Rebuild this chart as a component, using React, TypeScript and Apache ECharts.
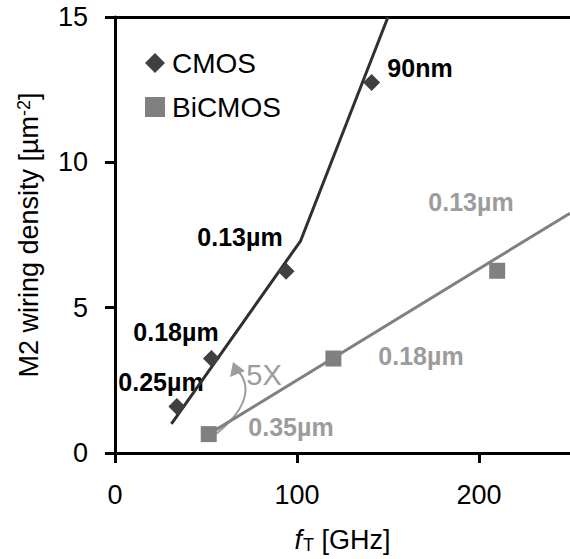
import React, { useEffect, useRef } from "react";
import * as echarts from "echarts";

const xTicks = [0, 100, 200];
const yTicks = [0, 5, 10, 15];
const cmosPoints = [[34, 1.6], [53, 3.25], [94, 6.25], [141, 12.75]];
const cmosFit = [[31, 1.0], [102, 7.3], [150, 15]];
const bicmosPoints = [[51.5, 0.65], [120, 3.25], [210, 6.27]];
const bicmosFit = [[51.5, 0.65], [250, 8.25]];

const FONT = "Liberation Sans, Arial, sans-serif";
const DARK = "#404040";
const GRAY = "#808080";
const LGRAY = "#9c9c9c";

export default function App() {
  const ref = useRef<HTMLDivElement>(null);
  useEffect(() => {
    document.body.style.margin = "0";
    const chart = echarts.init(ref.current!, null, { renderer: "svg" });
    const lbl = (text: string, x: number, y: number, color: string, bold = true, size = 25) => ({
      type: "text",
      x,
      y,
      style: {
        text,
        fill: color,
        font: `${bold ? "bold " : ""}${size}px ${FONT}`,
        textAlign: "center",
        textVerticalAlign: "middle",
      },
    });
    chart.setOption({
      animation: false,
      grid: { left: 115, top: 17, right: -6, bottom: 102 },
      legend: {
        orient: "vertical",
        left: 140,
        top: 44,
        itemWidth: 20,
        itemHeight: 20,
        itemGap: 16,
        textStyle: { fontSize: 28, fontFamily: FONT, color: "#000", padding: [0, 0, 0, 2] },
        data: [
          { name: "CMOS", icon: "diamond", itemStyle: { opacity: 1 } },
          { name: "BiCMOS", icon: "rect", itemStyle: { opacity: 1 } },
        ],
      },
      xAxis: [
        {
          type: "value",
          min: 0,
          max: 250,
          interval: 100,
          position: "bottom",
          name: "{i|f}{sub|T} [GHz]",
          nameLocation: "middle",
          nameGap: 73,
          nameTextStyle: {
            fontSize: 27,
            fontFamily: FONT,
            color: "#000",
            rich: {
              i: { fontSize: 27, fontStyle: "italic", fontFamily: FONT, color: "#000" },
              sub: { fontSize: 18, fontFamily: FONT, color: "#000", verticalAlign: "bottom", padding: [10, 0, 0, 1] },
            },
          },
          splitLine: { show: false },
          axisLine: { lineStyle: { color: "#000", width: 3 } },
          axisTick: { length: 10, lineStyle: { color: "#000", width: 3 }, customValues: xTicks },
          axisLabel: { fontSize: 27, fontFamily: FONT, color: "#000", margin: 28, customValues: xTicks },
        },
        {
          type: "value",
          min: 0,
          max: 250,
          position: "top",
          splitLine: { show: false },
          axisLine: { show: true, lineStyle: { color: "#000", width: 3 } },
          axisTick: { show: false },
          axisLabel: { show: false },
        },
      ],
      yAxis: {
        type: "value",
        min: 0,
        max: 15,
        interval: 5,
        name: "M2 wiring density [µm{sup|-2}]",
        nameLocation: "middle",
        nameGap: 72,
        nameTextStyle: {
          fontSize: 27,
          fontFamily: FONT,
          color: "#000",
          rich: {
            sup: { fontSize: 18, fontFamily: FONT, color: "#000", verticalAlign: "top", padding: [0, 0, 10, 0] },
          },
        },
        splitLine: { show: false },
        axisLine: { show: true, lineStyle: { color: "#000", width: 3 } },
        axisTick: { show: true, length: 10, lineStyle: { color: "#000", width: 3 }, customValues: yTicks },
        axisLabel: { fontSize: 27, fontFamily: FONT, color: "#000", margin: 27, customValues: yTicks },
      },
      series: [
        {
          name: "CMOS fit",
          type: "line",
          data: cmosFit,
          symbol: "none",
          lineStyle: { color: "#303030", width: 3 },
          z: 2,
        },
        {
          name: "BiCMOS fit",
          type: "line",
          data: bicmosFit,
          symbol: "none",
          lineStyle: { color: GRAY, width: 3 },
          z: 2,
        },
        {
          name: "CMOS",
          type: "scatter",
          data: cmosPoints,
          symbol: "diamond",
          symbolSize: 17,
          itemStyle: { color: DARK, opacity: 1 },
          z: 3,
        },
        {
          name: "BiCMOS",
          type: "scatter",
          data: bicmosPoints,
          symbol: "rect",
          symbolSize: 16,
          itemStyle: { color: GRAY, opacity: 1 },
          z: 3,
        },
      ],
      graphic: [
        lbl("0.25µm", 161, 382, "#000"),
        lbl("0.18µm", 176, 332, "#000"),
        lbl("0.13µm", 240, 237, "#000"),
        lbl("90nm", 420, 68, "#000"),
        lbl("0.13µm", 471, 202, LGRAY),
        lbl("0.18µm", 421, 356, LGRAY),
        lbl("0.35µm", 291, 427, LGRAY),
        lbl("5X", 264, 375, LGRAY, false, 29),
        {
          type: "bezierCurve",
          shape: { x1: 216, y1: 434, cpx1: 246, cpy1: 410, cpx2: 252, cpy2: 388, x2: 239, y2: 372 },
          style: { stroke: LGRAY, lineWidth: 2, fill: null },
        },
        {
          type: "polygon",
          shape: { points: [[233, 362], [230, 377], [245, 371]] },
          style: { fill: LGRAY },
        },
      ],
    });
    return () => chart.dispose();
  }, []);
  return <div ref={ref} style={{ width: 570, height: 559 }} />;
}
